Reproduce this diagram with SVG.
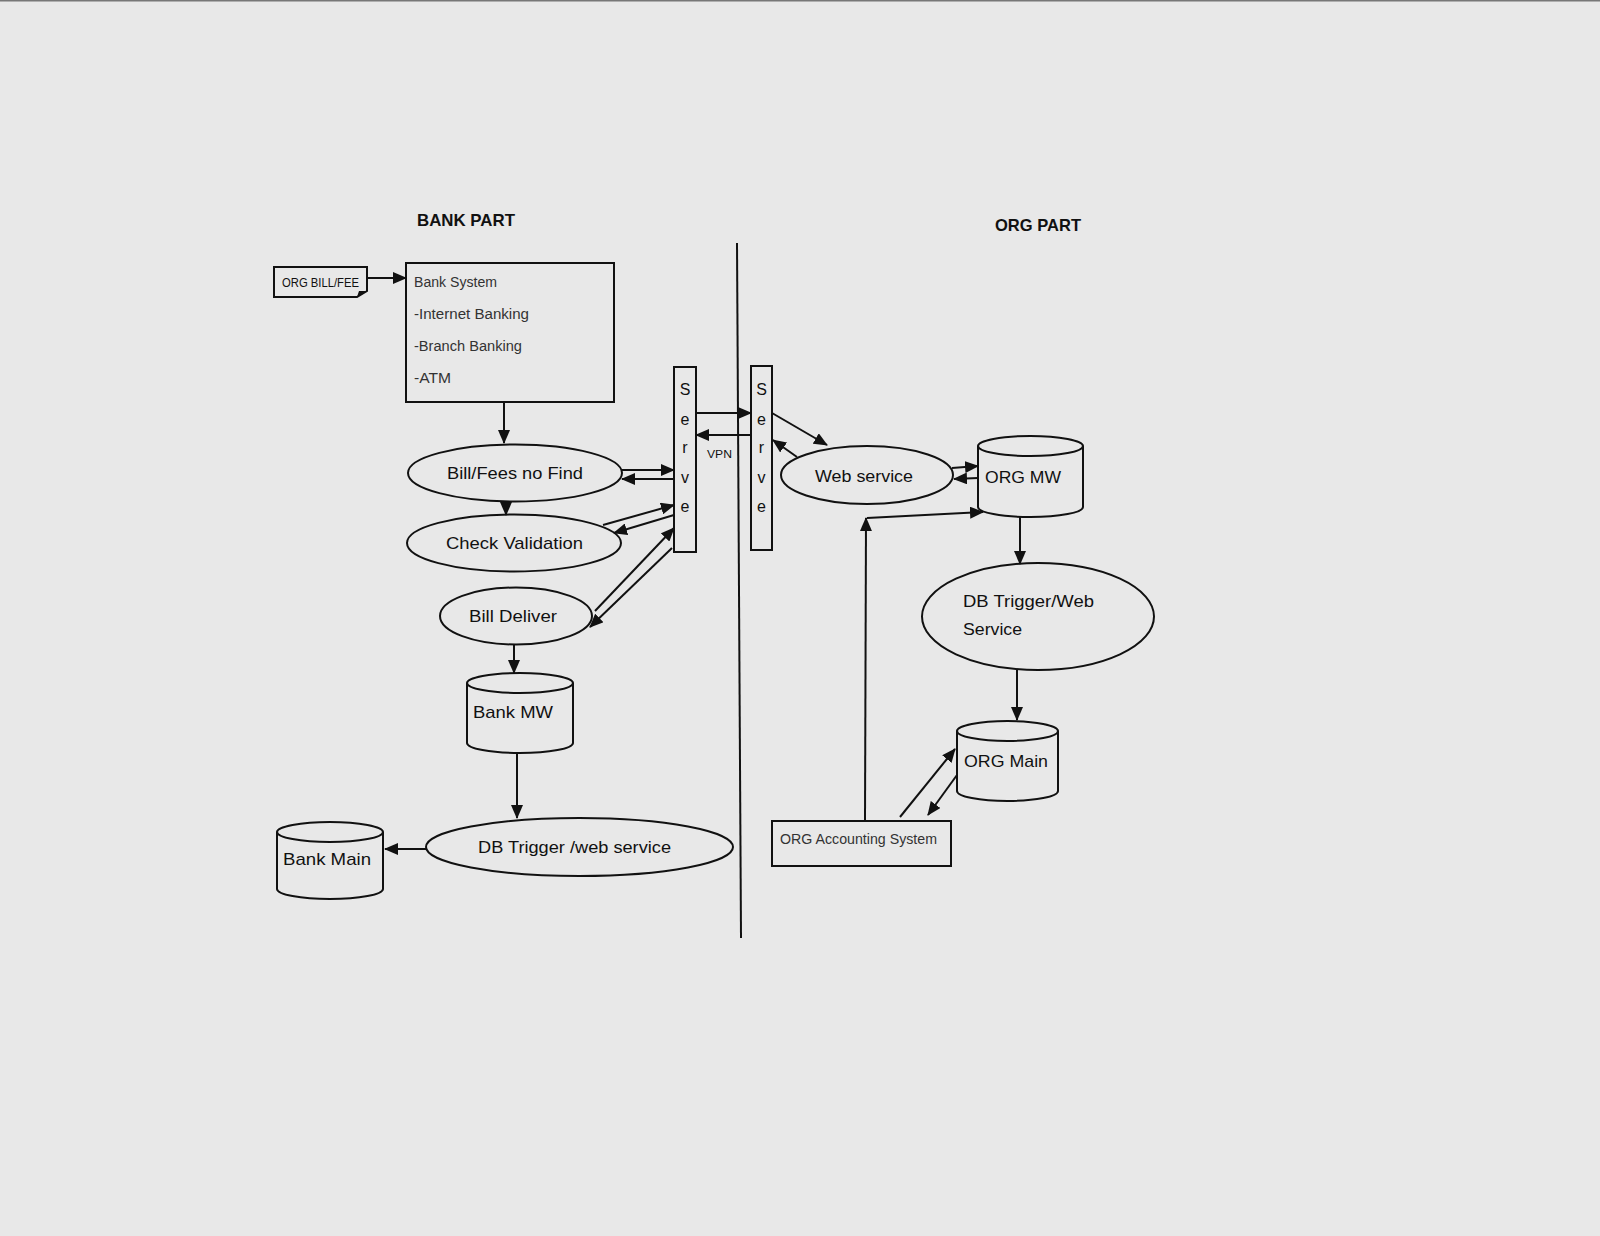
<svg xmlns="http://www.w3.org/2000/svg" width="1600" height="1236" viewBox="0 0 1600 1236">
<defs>
<marker id="ah" markerUnits="userSpaceOnUse" markerWidth="14" markerHeight="12" viewBox="0 0 14 12" refX="13" refY="6" orient="auto">
<path d="M0,0 L14,6 L0,12 Z" fill="#111"/>
</marker>
</defs>
<style>
.bg{fill:#e8e8e8}
.sh{fill:none;stroke:#111;stroke-width:2}
.shf{fill:#e8e8e8;stroke:#111;stroke-width:2}
.c{fill:none;stroke:#111;stroke-width:2;marker-end:url(#ah)}
.ln{fill:none;stroke:#111;stroke-width:2}
text{font-family:"Liberation Sans",Arial,sans-serif;fill:#111}
.t{font-size:17px}
.s{font-size:14px;fill:#333}
.h{font-size:17px;font-weight:bold}
.sv{font-size:16px;text-anchor:middle}
</style>
<rect class="bg" x="0" y="0" width="1600" height="1236"/>
<line x1="0" y1="0.5" x2="1600" y2="0.5" stroke="#777" stroke-width="2"/>

<g id="titles">
<text class="h" x="417" y="226" textLength="98" lengthAdjust="spacingAndGlyphs">BANK PART</text>
<text class="h" x="995" y="231" textLength="86" lengthAdjust="spacingAndGlyphs">ORG PART</text>
</g>

<g id="divider">
<line class="ln" x1="737" y1="243" x2="741" y2="938"/>
</g>

<g id="org-bill-fee">
<path class="shf" d="M274,267 H367 V291 L357,297 H274 Z"/>
<path d="M367,291 L357,297 L359,291 Z" fill="#111"/>
<text x="282" y="287" font-size="12" textLength="77" lengthAdjust="spacingAndGlyphs">ORG BILL/FEE</text>
</g>

<g id="bank-system">
<rect class="shf" x="406" y="263" width="208" height="139"/>
<text class="s" x="414" y="287" textLength="83" lengthAdjust="spacingAndGlyphs">Bank System</text>
<text class="s" x="414" y="319" textLength="115" lengthAdjust="spacingAndGlyphs">-Internet Banking</text>
<text class="s" x="414" y="351" textLength="108" lengthAdjust="spacingAndGlyphs">-Branch Banking</text>
<text class="s" x="414" y="383" textLength="37" lengthAdjust="spacingAndGlyphs">-ATM</text>
</g>

<g id="bill-fees-no-find">
<ellipse class="shf" cx="515" cy="473" rx="107" ry="28.5"/>
<text class="t" x="447" y="479" textLength="136" lengthAdjust="spacingAndGlyphs">Bill/Fees no Find</text>
</g>

<g id="check-validation">
<ellipse class="shf" cx="514" cy="543" rx="107" ry="28.5"/>
<text class="t" x="446" y="549" textLength="137" lengthAdjust="spacingAndGlyphs">Check Validation</text>
</g>

<g id="bill-deliver">
<ellipse class="shf" cx="516" cy="616" rx="76" ry="28.5"/>
<text class="t" x="469" y="622" textLength="88" lengthAdjust="spacingAndGlyphs">Bill Deliver</text>
</g>

<g id="bank-mw">
<path class="shf" d="M467,683 A53,10 0 0,1 573,683 V743 A53,10 0 0,1 467,743 Z"/>
<path class="sh" d="M467,683 A53,10 0 0,0 573,683"/>
<text class="t" x="473" y="718" textLength="80" lengthAdjust="spacingAndGlyphs">Bank MW</text>
</g>

<g id="db-trigger-bank">
<ellipse class="shf" cx="579.5" cy="847" rx="153.5" ry="29"/>
<text class="t" x="478" y="853" textLength="193" lengthAdjust="spacingAndGlyphs">DB Trigger /web service</text>
</g>

<g id="bank-main">
<path class="shf" d="M277,832 A53,10 0 0,1 383,832 V889 A53,10 0 0,1 277,889 Z"/>
<path class="sh" d="M277,832 A53,10 0 0,0 383,832"/>
<text class="t" x="283" y="865" textLength="88" lengthAdjust="spacingAndGlyphs">Bank Main</text>
</g>

<g id="server-left">
<rect class="shf" x="674" y="367" width="22" height="185"/>
<text class="sv" x="685" y="395">S</text>
<text class="sv" x="685" y="425">e</text>
<text class="sv" x="685" y="453">r</text>
<text class="sv" x="685" y="483">v</text>
<text class="sv" x="685" y="512">e</text>
</g>

<g id="server-right">
<rect class="shf" x="751" y="366" width="21" height="184"/>
<text class="sv" x="761.5" y="395">S</text>
<text class="sv" x="761.5" y="425">e</text>
<text class="sv" x="761.5" y="453">r</text>
<text class="sv" x="761.5" y="483">v</text>
<text class="sv" x="761.5" y="512">e</text>
</g>

<g id="vpn-label">
<text x="707" y="458" font-size="11" fill="#333" textLength="25" lengthAdjust="spacingAndGlyphs">VPN</text>
</g>

<g id="web-service">
<ellipse class="shf" cx="867" cy="475" rx="86" ry="29"/>
<text class="t" x="815" y="482" textLength="98" lengthAdjust="spacingAndGlyphs">Web service</text>
</g>

<g id="org-mw">
<path class="shf" d="M978,446 A52.5,10 0 0,1 1083,446 V507 A52.5,10 0 0,1 978,507 Z"/>
<path class="sh" d="M978,446 A52.5,10 0 0,0 1083,446"/>
<text class="t" x="985" y="483" textLength="76" lengthAdjust="spacingAndGlyphs">ORG MW</text>
</g>

<g id="db-trigger-org">
<ellipse class="shf" cx="1038" cy="616.5" rx="116" ry="53.5"/>
<text class="t" x="963" y="607" textLength="131" lengthAdjust="spacingAndGlyphs">DB Trigger/Web</text>
<text class="t" x="963" y="635" textLength="59" lengthAdjust="spacingAndGlyphs">Service</text>
</g>

<g id="org-main">
<path class="shf" d="M957,731 A50.5,10 0 0,1 1058,731 V791 A50.5,10 0 0,1 957,791 Z"/>
<path class="sh" d="M957,731 A50.5,10 0 0,0 1058,731"/>
<text class="t" x="964" y="767" textLength="84" lengthAdjust="spacingAndGlyphs">ORG Main</text>
</g>

<g id="org-accounting">
<rect class="shf" x="772" y="821" width="179" height="45"/>
<text class="s" x="780" y="844" textLength="157" lengthAdjust="spacingAndGlyphs">ORG Accounting System</text>
</g>

<g id="connectors">
<line class="c" x1="367" y1="278" x2="406" y2="278"/>
<line class="c" x1="504" y1="402" x2="504" y2="443"/>
<line class="c" x1="506" y1="502" x2="506" y2="515"/>
<line class="c" x1="622" y1="470" x2="674" y2="470"/>
<line class="c" x1="674" y1="479" x2="622" y2="479"/>
<line class="c" x1="603" y1="525" x2="674" y2="505"/>
<line class="c" x1="674" y1="515" x2="614" y2="533"/>
<line class="c" x1="595" y1="611" x2="674" y2="528"/>
<line class="c" x1="672" y1="548" x2="590" y2="627"/>
<line class="c" x1="514" y1="645" x2="514" y2="673"/>
<line class="c" x1="517" y1="753" x2="517" y2="818"/>
<line class="c" x1="426" y1="849" x2="385" y2="849"/>
<line class="c" x1="696" y1="413" x2="751" y2="413"/>
<line class="c" x1="751" y1="435" x2="696" y2="435"/>
<line class="c" x1="772" y1="413" x2="827" y2="445"/>
<line class="c" x1="797" y1="457" x2="773" y2="440"/>
<line class="c" x1="952" y1="468" x2="978" y2="466"/>
<line class="c" x1="978" y1="478" x2="954" y2="479"/>
<line class="c" x1="1020" y1="517" x2="1020" y2="564"/>
<line class="c" x1="1017" y1="670" x2="1017" y2="720"/>
<line class="c" x1="900" y1="817" x2="955" y2="749"/>
<line class="c" x1="957" y1="775" x2="928" y2="815"/>
<line class="c" x1="865" y1="821" x2="866" y2="518"/>
<line class="c" x1="867" y1="518" x2="983" y2="512"/>
</g>
</svg>
